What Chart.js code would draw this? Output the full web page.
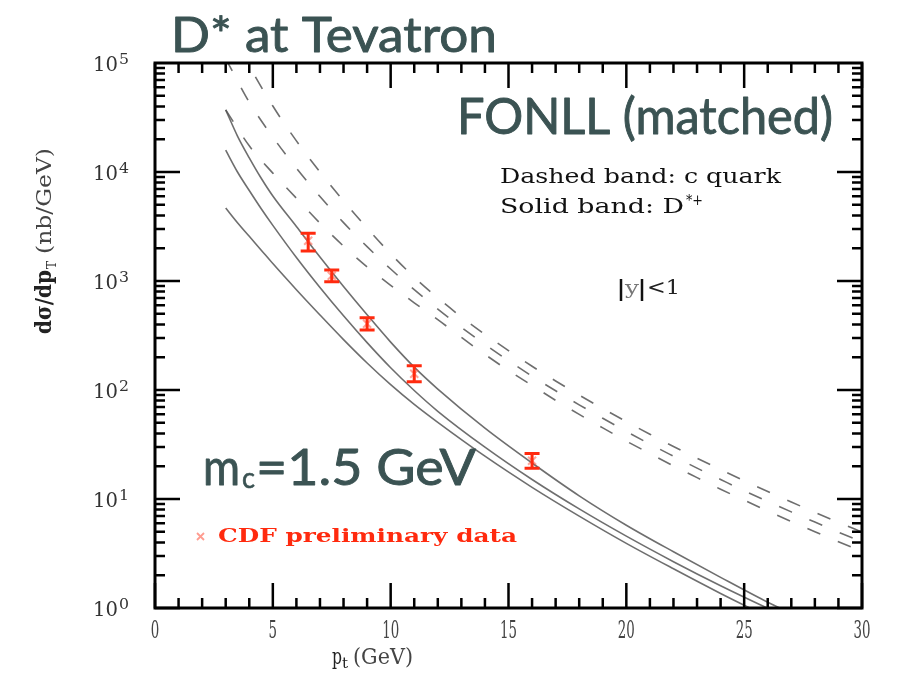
<!DOCTYPE html>
<html>
<head>
<meta charset="utf-8">
<script src="https://cdn.jsdelivr.net/npm/chart.js@4.4.1/dist/chart.umd.min.js"></script>
<style>
  html, body { margin: 0; padding: 0; background: #ffffff; }
  #c { display: block; }
</style>
</head>
<body>
<canvas id="c" width="902" height="687"></canvas>
<script>
// D* production at the Tevatron, FONLL (matched), |y|<1

// transverse momentum grid of the D*+ band (GeV)
const ptSolid = [3, 3.5, 4, 4.5, 5, 6, 7, 8, 9, 10, 11, 12, 14, 16, 18, 20, 22, 24, 26, 27];
// D*+ band (nb/GeV): upper edge, central, lower edge
const dstarUpper   = [37150, 21380, 13490, 8810, 6026, 3162, 1660, 891, 490, 275, 162, 102, 44.7, 21.4, 10.7, 5.75, 3.28, 1.91, 1.13, 0.89];
const dstarCentral = [15850, 10000, 6761, 4624, 3236, 1641, 871, 479, 272, 160, 98.9, 63.8, 29.9, 15.1, 8.11, 4.56, 2.66, 1.60, 0.993, 0.789];
const dstarLower   = [4677, 3428, 2570, 1928, 1445, 832, 488, 290, 177, 112, 73.8, 50.5, 24.7, 12.8, 6.97, 3.92, 2.29, 1.36, 0.83, 0.65];

// transverse momentum grid of the charm-quark band (GeV)
const ptQuark = [3, 4, 5, 6, 7, 8, 9, 10, 11, 12, 13, 14, 15, 16, 17, 18, 19, 20, 21, 22, 23, 24, 25, 26, 27, 28, 29, 30];
// c-quark band (nb/GeV): upper edge, central, lower edge
const quarkUpper   = [260000, 94400, 40300, 19300, 10000, 5430, 3055, 1778, 1084, 700, 468, 324, 230, 165, 121, 89.9, 67.6, 51.3, 39.3, 30.3, 23.7, 18.6, 14.7, 11.7, 9.38, 7.55, 6.11, 4.97];
const quarkCentral = [109600, 43650, 20900, 10840, 5960, 3430, 2065, 1288, 832, 552, 376, 262, 186, 134, 98.4, 73.1, 55.0, 41.7, 31.9, 24.7, 19.2, 15.1, 11.9, 9.51, 7.62, 6.14, 4.97, 4.04];
const quarkLower   = [37150, 17380, 9770, 5750, 3390, 2090, 1349, 912, 631, 442, 304, 212, 151, 110, 80.4, 59.7, 44.9, 34.0, 26.1, 20.1, 15.7, 12.3, 9.75, 7.76, 6.22, 5.01, 4.06, 3.30];

// CDF preliminary D*+ measurement (nb/GeV)
const cdfPt   = [6.5, 7.5, 9, 11, 16];
const cdfVal  = [2340, 1117, 405, 141, 22.4];
const cdfLow  = [1884, 986, 355, 119, 19.1];
const cdfHigh = [2738, 1262, 460, 167, 26.2];

// axis ticks
const xTickLabels = [0, 5, 10, 15, 20, 25, 30];
const yDecades = [0, 1, 2, 3, 4, 5];

const RED = '#ff2a0e';
const SLATE = '#3b5353';
const LINE_GREY = 'rgba(85,85,85,0.85)';

function toPoints(xs, ys) { return xs.map((x, i) => ({ x: x, y: ys[i] })); }

function curve(xs, ys, dashed) {
  return {
    data: toPoints(xs, ys),
    borderColor: LINE_GREY,
    borderWidth: 1.6,
    borderDash: dashed ? [14, 19] : [],
    pointRadius: 0,
    fill: false,
    cubicInterpolationMode: 'monotone'
  };
}

// text squeezed or stretched horizontally to a given width
function fitText(ctx, text, x, y, w, font, color, outline) {
  ctx.save();
  ctx.font = font;
  ctx.fillStyle = color;
  ctx.textAlign = 'left';
  ctx.textBaseline = 'alphabetic';
  const m = ctx.measureText(text).width;
  ctx.translate(x, y);
  ctx.scale(w / m, 1);
  ctx.fillText(text, 0, 0);
  if (outline) {
    ctx.strokeStyle = color;
    ctx.lineWidth = outline;
    ctx.lineJoin = 'round';
    ctx.strokeText(text, 0, 0);
  }
  ctx.restore();
}

const decor = {
  id: 'decor',
  afterDatasetsDraw(chart) {
    const ctx = chart.ctx, xs = chart.scales.x, ys = chart.scales.y;
    ctx.save();
    for (let i = 0; i < cdfPt.length; i++) {
      const px = xs.getPixelForValue(cdfPt[i]);
      const pc = ys.getPixelForValue(cdfVal[i]);
      const pl = ys.getPixelForValue(cdfLow[i]);
      const ph = ys.getPixelForValue(cdfHigh[i]);
      // marker
      ctx.strokeStyle = 'rgba(255,90,70,0.55)';
      ctx.lineWidth = 2;
      ctx.beginPath();
      ctx.moveTo(px - 4, pc - 4); ctx.lineTo(px + 4, pc + 4);
      ctx.moveTo(px + 4, pc - 4); ctx.lineTo(px - 4, pc + 4);
      ctx.stroke();
      // error bar with caps
      ctx.strokeStyle = RED;
      ctx.lineWidth = 3;
      ctx.beginPath();
      ctx.moveTo(px, ph); ctx.lineTo(px, pl);
      ctx.moveTo(px - 7.5, ph); ctx.lineTo(px + 7.5, ph);
      ctx.moveTo(px - 7.5, pl); ctx.lineTo(px + 7.5, pl);
      ctx.stroke();
    }
    ctx.restore();
  },
  afterDraw(chart) {
    const ctx = chart.ctx, xs = chart.scales.x, ys = chart.scales.y;
    const a = chart.chartArea;
    ctx.save();

    // frame
    ctx.strokeStyle = '#000';
    ctx.lineWidth = 3;
    ctx.strokeRect(a.left, a.top, a.right - a.left, a.bottom - a.top);

    // inward ticks on all four sides
    ctx.lineWidth = 2.5;
    ctx.beginPath();
    for (let v = 0; v <= 30; v++) {
      const p = xs.getPixelForValue(v);
      const len = v % 5 === 0 ? 25 : 10;
      ctx.moveTo(p, a.bottom); ctx.lineTo(p, a.bottom - len);
      ctx.moveTo(p, a.top); ctx.lineTo(p, a.top + len);
    }
    for (let d = 0; d < 5; d++) {
      for (let m = 1; m <= 9; m++) {
        const p = ys.getPixelForValue(m * Math.pow(10, d));
        const len = m === 1 ? 25 : 10;
        ctx.moveTo(a.left, p); ctx.lineTo(a.left + len, p);
        ctx.moveTo(a.right, p); ctx.lineTo(a.right - len, p);
      }
    }
    ctx.stroke();

    // x tick labels
    for (const v of xTickLabels) {
      const s = String(v);
      const p = xs.getPixelForValue(v);
      const w = 8.5 * s.length;
      fitText(ctx, s, p - w / 2, a.bottom + 30, w, '25px "DejaVu Serif"', '#444');
    }

    // y tick labels 10^n
    for (const d of yDecades) {
      const p = ys.getPixelForValue(Math.pow(10, d));
      fitText(ctx, '10', 93, p + 8, 25, '20px "DejaVu Serif"', '#333');
      fitText(ctx, String(d), 119, p + 1, 10, '15px "DejaVu Serif"', '#333');
    }

    // axis titles
    fitText(ctx, 'p', 332, 664, 10, '23px "DejaVu Serif"', '#222');
    fitText(ctx, 't', 342, 668, 6, '14px "DejaVu Serif"', '#222');
    fitText(ctx, '(GeV)', 353, 664, 60, '22px "DejaVu Serif"', '#444');

    ctx.save();
    ctx.translate(51, 334);
    ctx.rotate(-Math.PI / 2);
    fitText(ctx, 'd\u03c3/dp', 0, 0, 64, 'bold 22px "DejaVu Serif"', '#222');
    fitText(ctx, 'T', 65, 5, 8, '13px "DejaVu Serif"', '#222');
    fitText(ctx, '(nb/GeV)', 80, 0, 106, '21px "DejaVu Serif"', '#444');
    ctx.restore();

    // headline texts
    fitText(ctx, 'D* at Tevatron', 171, 52, 326, '48px Lato', SLATE, 0.9);
    fitText(ctx, 'FONLL (matched)', 457, 134, 376, '50px Lato', SLATE, 0.9);
    fitText(ctx, 'm', 203, 485, 37, '50px Lato', SLATE, 0.9);
    fitText(ctx, 'c', 242, 488, 13, '28px Lato', SLATE, 0.6);
    fitText(ctx, '=1.5 GeV', 256, 485, 220, '50px Lato', SLATE, 0.9);

    // band descriptions
    fitText(ctx, 'Dashed band: c quark', 500, 183, 281, '20px "DejaVu Serif"', '#111');
    fitText(ctx, 'Solid band: D', 500, 213, 184, '20px "DejaVu Serif"', '#111');
    fitText(ctx, '*+', 686, 205, 17, '14px "DejaVu Serif"', '#111');

    // rapidity cut |y|<1
    ctx.strokeStyle = '#111';
    ctx.lineWidth = 2.5;
    ctx.beginPath();
    ctx.moveTo(621, 279); ctx.lineTo(621, 301);
    ctx.moveTo(642, 279); ctx.lineTo(642, 301);
    ctx.stroke();
    fitText(ctx, 'y', 625, 294, 14, '19px "DejaVu Serif"', '#777');
    fitText(ctx, '<1', 647, 294, 33, '20px "DejaVu Serif"', '#222');

    // data legend
    ctx.strokeStyle = 'rgba(255,90,70,0.6)';
    ctx.lineWidth = 1.8;
    ctx.beginPath();
    ctx.moveTo(197, 533); ctx.lineTo(204, 540);
    ctx.moveTo(204, 533); ctx.lineTo(197, 540);
    ctx.stroke();
    fitText(ctx, 'CDF preliminary data', 218, 542, 299, 'bold 19px "DejaVu Serif"', RED);

    ctx.restore();
  }
};

new Chart(document.getElementById('c'), {
  type: 'line',
  data: {
    datasets: [
      curve(ptQuark, quarkUpper, true),
      curve(ptQuark, quarkCentral, true),
      curve(ptQuark, quarkLower, true),
      curve(ptSolid, dstarUpper, false),
      curve(ptSolid, dstarCentral, false),
      curve(ptSolid, dstarLower, false)
    ]
  },
  options: {
    responsive: false,
    animation: false,
    devicePixelRatio: 1,
    layout: { padding: { left: 155, right: 40, top: 63, bottom: 79 } },
    plugins: { legend: { display: false }, tooltip: { enabled: false } },
    scales: {
      x: { type: 'linear', min: 0, max: 30, display: false },
      y: { type: 'logarithmic', min: 1, max: 100000, display: false }
    }
  },
  plugins: [decor]
});
</script>
</body>
</html>
